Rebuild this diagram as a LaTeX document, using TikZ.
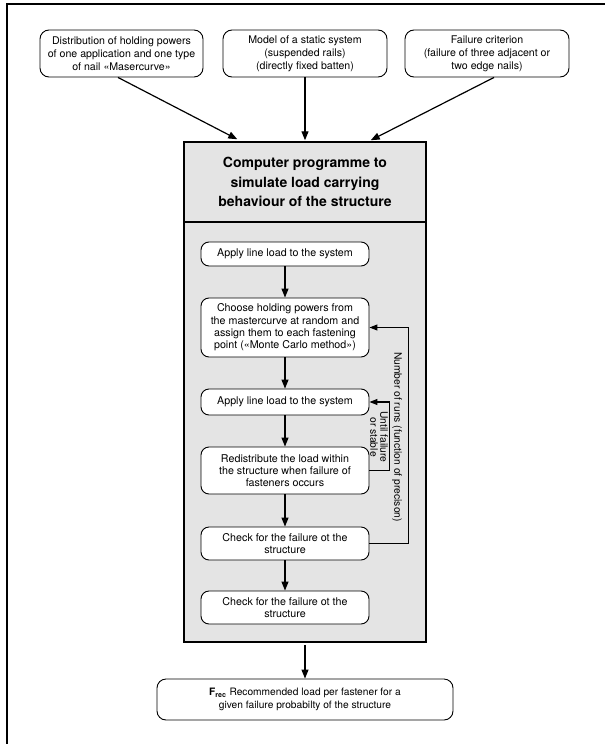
\documentclass[tikz,border=0pt]{standalone}
\usepackage{fontspec}
\setmainfont{TeX Gyre Heros}
\usetikzlibrary{arrows.meta,calc}
\definecolor{panelgray}{HTML}{E4E4E4}
\tikzset{
  topbox/.style={draw, line width=0.9pt, rounded corners=9pt, fill=white, align=center,
    font=\fontsize{10.6}{13}\selectfont, inner sep=2pt},
  resbox/.style={draw, line width=0.9pt, rounded corners=9pt, fill=white, align=center,
    font=\fontsize{10.2}{13}\selectfont, inner sep=2pt},
  innerbox/.style={draw, line width=0.9pt, rounded corners=8pt, fill=white, align=center,
    font=\fontsize{10.7}{12.3}\selectfont, inner sep=2pt, minimum width=168pt},
  panel/.style={draw, line width=1.5pt, fill=panelgray, minimum width=242pt, inner sep=0pt},
  conn/.style={line width=1.2pt, -{Triangle[length=9pt,width=7pt]}},
  loopline/.style={line width=1.1pt, -{Triangle[length=8pt,width=6pt]}},
  looplabel/.style={rotate=-90, font=\fontsize{10.3}{10}\selectfont, inner sep=0pt, align=center},
}
\begin{document}
\begin{tikzpicture}[x=1pt,y=-1pt]
\useasboundingbox (0,0) rectangle (605,744);
\fill[white] (0,0) rectangle (605,744);
\draw[line width=1.2pt] (7,744) -- (7,4) -- (605,4);

% top input boxes
\node[topbox, minimum width=163pt, minimum height=47pt] (b1) at (121.5,53.5)
  {Distribution of holding powers\\of one application and one type\\of nail «Masercurve»};
\node[topbox, minimum width=164pt, minimum height=47pt] (b2) at (305,53.5)
  {Model of a static system\\(suspended rails)\\(directly fixed batten)};
\node[topbox, minimum width=164pt, minimum height=47pt] (b3) at (487,53.5)
  {Failure criterion\\(failure of three adjacent or\\two edge nails)};

% main panel
\node[panel, minimum height=420pt] (mainbody) at (305,432) {};
\node[panel, minimum height=80pt, align=center,
  font=\bfseries\fontsize{14}{19.5}\selectfont] (mainhead) at (305,182)
  {Computer programme to\\simulate load carrying\\behaviour of the structure};

% inner steps
\node[innerbox, minimum height=24pt] (a1) at (285,254) {Apply line load to the system};
\node[innerbox, minimum height=59pt] (ch) at (285,327.5)
  {Choose holding powers from\\the mastercurve at random and\\assign them to each fastening\\point («Monte Carlo method»)};
\node[innerbox, minimum height=26pt] (a2) at (285,402) {Apply line load to the system};
\node[innerbox, minimum height=47pt] (rd) at (285,470.5)
  {Redistribute the load within\\the structure when failure of\\fasteners occurs};
\node[innerbox, minimum height=33pt] (c1) at (285,543.5) {Check for the failure ot the\\structure};
\node[innerbox, minimum height=33pt] (c2) at (285,607.5) {Check for the failure ot the\\structure};

% result
\node[resbox, minimum width=296pt, minimum height=41pt] (res) at (305,699.5)
  {\textbf{F\textsubscript{rec}} Recommended load per fastener for a\\given failure probabilty of the structure};

% connectors from inputs
\draw[conn] ($(b1.south)+(-3.5,0)$) -- ($(mainhead.north west)+(54,-2)$);
\draw[conn] (b2.south) -- ($(mainhead.north)+(0,-1)$);
\draw[conn] ($(b3.south)+(7,0)$) -- ($(mainhead.north east)+(-56,-1)$);

% flow
\draw[conn] (a1) -- (ch);
\draw[conn] (ch) -- (a2);
\draw[conn] (a2) -- (rd);
\draw[conn] (rd) -- (c1);
\draw[conn] (c1) -- (c2);

% loops
\draw[loopline] (c1.east) -- ++(39,0) |- (ch.east);
\draw[loopline] (rd.east) -- ++(20,0) |- (a2.east);
\node[looplabel] (lblruns) at (397,437) {Number of runs (function of precison)};
\node[looplabel] (lbluntil) at (379,437) {Until failure\\or stable};

% output
\draw[conn] (mainbody.south) ++(0,2) coordinate (mbs) (mbs) -- (res.north);
\end{tikzpicture}
\end{document}
